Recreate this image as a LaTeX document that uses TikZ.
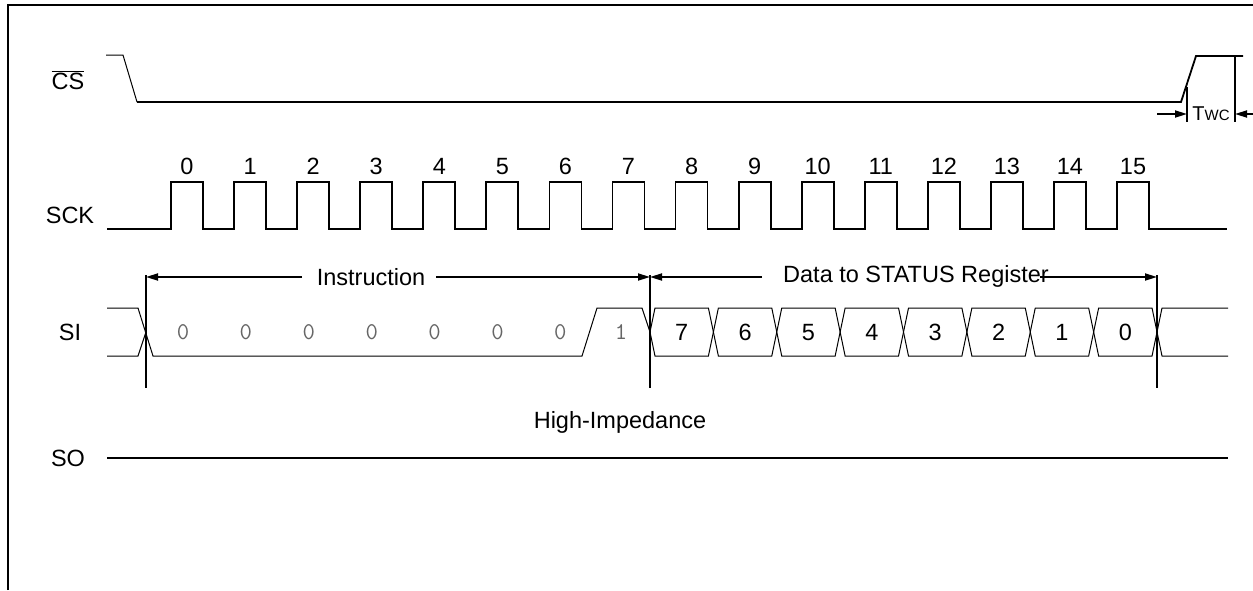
\documentclass[tikz,border=0pt]{standalone}
\usepackage{fontspec}
\setmainfont{Liberation Sans}
\usetikzlibrary{arrows.meta}
\begin{document}
\begin{tikzpicture}[x=1pt,y=-1pt,
  thick line/.style={line width=1.8pt},
  thin line/.style={line width=1pt},
  lbl/.style={inner sep=0pt,font=\fontsize{23.5}{28}\selectfont},
  digit/.style={lbl,anchor=base},
  bit/.style={inner sep=0pt,anchor=base,text=black!60,font=\ttfamily\fontsize{24}{28}\selectfont},
  dim/.style={line width=1.8pt,-{Triangle[length=12pt,width=7pt]}},
  marker/.style={line width=1.8pt}]
\useasboundingbox (0,0) rectangle (1253,590);
% frame
\draw[line width=2pt] (8,590) -- (8,5) -- (1253,5);
% signal names
\node[lbl] (lcs) at (68,80) {$\overline{\mbox{CS}}$};
\node[lbl] (lsck) at (70,215) {SCK};
\node[lbl] (lsi) at (70,332) {SI};
\node[lbl] (lso) at (68,458) {SO};
% CS
\draw[thin line] (106,55) -- (123,55) -- (137,102);
\draw[thick line] (137,102) -- (1181,102) -- (1196,56) -- (1243,56);
% Twc
\coordinate (tw1t) at (1187,87); \coordinate (tw1b) at (1187,122);
\coordinate (tw2t) at (1235,56); \coordinate (tw2b) at (1235,122);
\draw[marker] (tw1t) -- (tw1b);
\draw[marker] (tw2t) -- (tw2b);
\coordinate (twa) at (1157,114); \coordinate (twb) at (1253,114);
\draw[dim] (twa) -- (1187,114);
\draw[dim] (twb) -- (1235,114);
\node[inner sep=0pt] (twc) at (1211,114) {\fontsize{20}{24}\selectfont T\fontsize{15}{18}\selectfont WC};
% SCK
\draw[thick line] (107,229)
  \foreach \k in {0,...,15} {
    -- ({171+63.07*\k},229) -- ({171+63.07*\k},182) -- ({203+63.07*\k},182) -- ({203+63.07*\k},229)
  } -- (1227,229);
\foreach \k in {0,...,15} {
  \node[digit] (ck\k) at ({187+63.07*\k},174.4) {\k};
}
% SI
\draw[thin line] (107,308) -- (138,308) -- (153,356) -- (582,356) -- (597,308) -- (642,308) -- (650,332);
\draw[thin line] (107,356) -- (138,356) -- (146,332);
\foreach \k in {0,...,7} {
  \pgfmathsetmacro{\L}{650+63.375*\k}
  \draw[thin line] (\L,332) -- (\L+5,308) -- (\L+58.4,308) -- (\L+63.4,332) -- (\L+58.4,356) -- (\L+5,356) -- cycle;
}
\draw[thin line] (1157,332) -- (1162,308) -- (1228,308);
\draw[thin line] (1157,332) -- (1162,356) -- (1228,356);
\foreach \k in {0,...,6} {
  \node[bit] (ib\k) at ({183+62.9*\k},339.5) {0};
}
\node[bit] (ib7) at (621,339.5) {1};
\foreach \d [count=\i from 0] in {7,6,5,4,3,2,1,0} {
  \node[digit] (db\i) at ({681.7+63.375*\i},340.4) {\d};
}
% markers
\coordinate (m1t) at (146,275); \coordinate (m1b) at (146,388);
\coordinate (m2t) at (650,275); \coordinate (m2b) at (650,388);
\coordinate (m3t) at (1157,275); \coordinate (m3b) at (1157,388);
\draw[marker] (m1t) -- (m1b);
\draw[marker] (m2t) -- (m2b);
\draw[marker] (m3t) -- (m3b);
% Instruction arrows
\node[lbl] (instr) at (371,277) {Instruction};
\coordinate (ia) at (302,277); \coordinate (ib) at (436,277);
\draw[dim] (ia) -- (146,277);
\draw[dim] (ib) -- (650,277);
\node[lbl,anchor=west] (data) at (783,276) {Data to STATUS Register};
\coordinate (da) at (762,277); \coordinate (db) at (1040,277);
\draw[dim] (da) -- (650,277);
\draw[dim] (db) -- (1157,277);
% SO
\draw[thick line] (107,458) -- (1228,458);
\node[lbl] (hiz) at (620,422) {High-Impedance};
\end{tikzpicture}
\end{document}
